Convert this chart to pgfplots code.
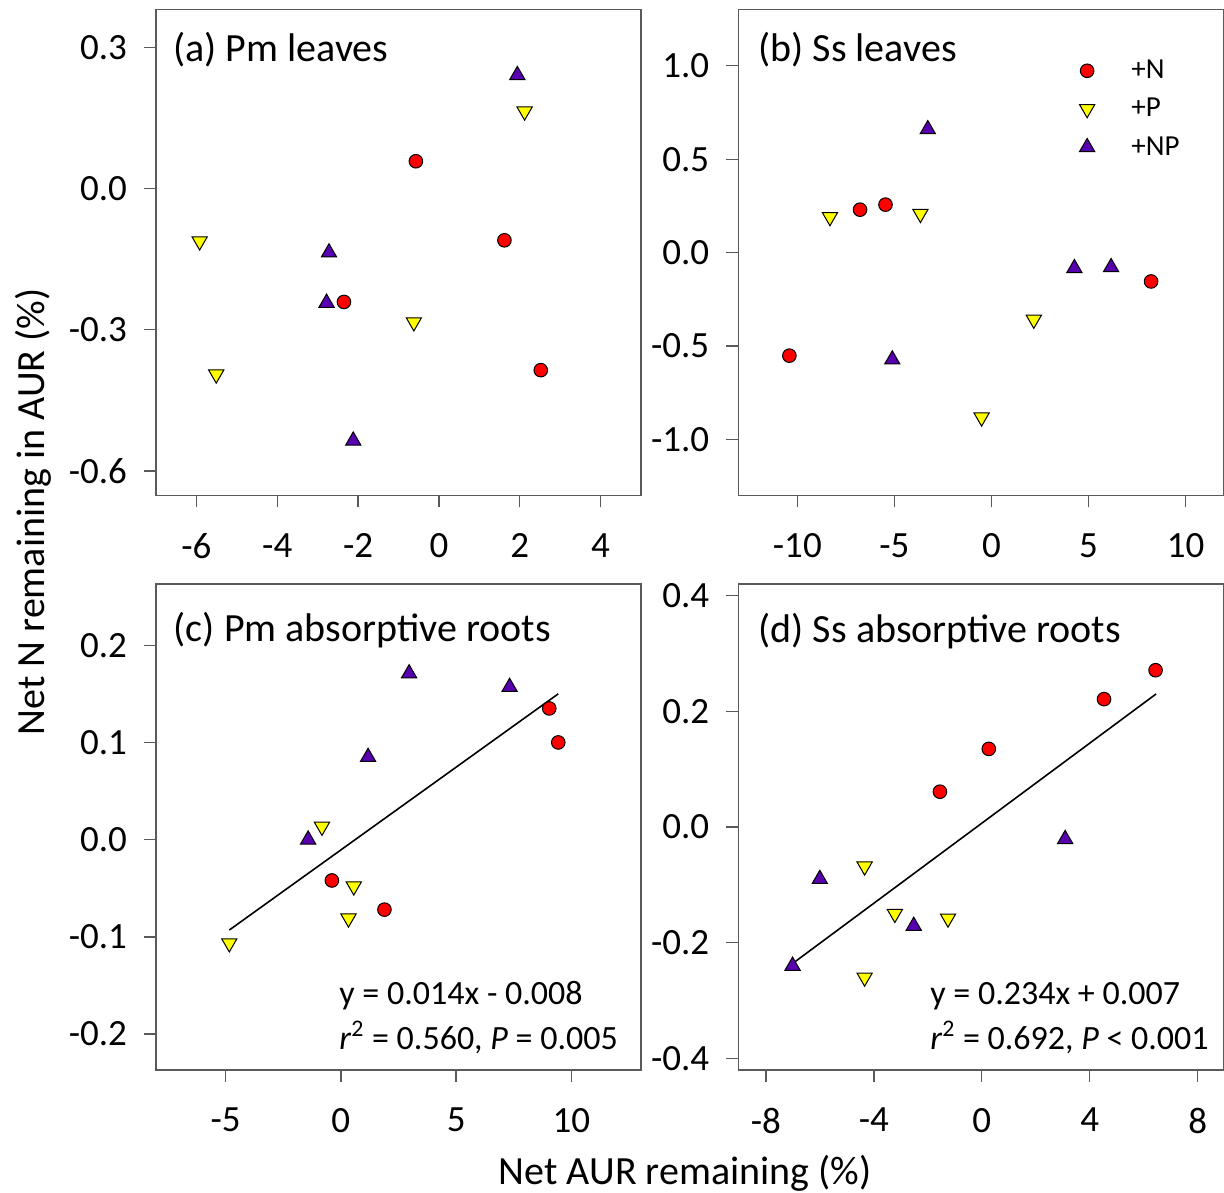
\documentclass[border=0pt]{standalone}
\usepackage{fontspec}
\setmainfont{Carlito}
\usepackage{pgfplots}
\pgfplotsset{compat=1.18}
\definecolor{npc}{RGB}{88,0,176}
\definecolor{pc}{RGB}{255,255,0}
\definecolor{nc}{RGB}{255,0,0}
\definecolor{framec}{RGB}{90,90,90}
\pgfplotsset{
  panel/.style={
    scale only axis, width=242.5pt, height=243pt,
    axis line style={framec, line width=0.7pt},
    tick style={framec, line width=0.7pt},
    tick align=outside, major tick length=6pt,
    tick pos=left,
    ticklabel style={font=\fontsize{18.5}{20}\selectfont},
    /pgf/number format/assume math mode=true,
    yticklabel style={xshift=-5pt, /pgf/number format/fixed, /pgf/number format/fixed zerofill, /pgf/number format/precision=1},
    xticklabel style={yshift=-9.5pt},
    legend image code/.code={\draw[##1] plot coordinates {(0.3cm,0cm)}; \path (0cm,0cm) (1.0cm,0cm);},
  },
  nmark/.style={only marks, mark=*, mark size=3.4pt, mark options={fill=nc, draw=black, line width=0.5pt}},
  pmark/.style={only marks, mark=triangle*, mark size=4.4pt, mark options={fill=pc, draw=black, line width=0.5pt, rotate=180}},
  npmark/.style={only marks, mark=triangle*, mark size=4.4pt, mark options={fill=npc, draw=black, line width=0.5pt}},
}
\tikzset{
  ttl/.style={anchor=west, inner sep=0pt, font=\fontsize{20}{24}\selectfont},
  ann/.style={anchor=west, inner sep=0pt, font=\fontsize{17}{20}\selectfont},
}
\begin{document}
\begin{tikzpicture}
\useasboundingbox (0,0) rectangle (612pt,-596pt);
% (a)
\begin{axis}[panel, at={(78pt,-4.65pt)}, anchor=north west,
  xmin=-7, xmax=5, ymin=-0.652, ymax=0.381,
  xtick={-6,-4,-2,0,2,4}, ytick={-0.6,-0.3,0,0.3}]
\addplot[nmark] coordinates {(-0.57,0.058) (1.62,-0.110) (-2.35,-0.241) (2.52,-0.386)};
\addplot[pmark] coordinates {(2.12,0.164) (-5.92,-0.112) (-5.51,-0.395) (-0.62,-0.284)};
\addplot[npmark] coordinates {(1.94,0.241) (-2.72,-0.136) (-2.78,-0.243) (-2.12,-0.536)};
\node[ttl] at (rel axis cs:0,1) [xshift=8.5pt, yshift=-20.3pt] {(a) Pm leaves};
\end{axis}
% (b)
\begin{axis}[panel, at={(369.15pt,-4.65pt)}, anchor=north west,
  xmin=-13.04, xmax=11.94, ymin=-1.298, ymax=1.302,
  xtick={-10,-5,0,5,10}, ytick={-1,-0.5,0,0.5,1},
  legend style={draw=none, fill=none, at={(0.670,0.913)}, anchor=north west,
    font=\fontsize{14.5}{17}\selectfont, row sep=4.3pt},
  legend cell align=left]
\addplot[nmark] coordinates {(-10.41,-0.551) (-6.77,0.230) (-5.46,0.257) (8.22,-0.154)};
\addlegendentry{+N}
\addplot[pmark] coordinates {(-8.32,0.191) (-3.66,0.208) (2.18,-0.358) (-0.51,-0.881)};
\addlegendentry{+P}
\addplot[npmark] coordinates {(-3.28,0.660) (-5.11,-0.572) (4.27,-0.083) (6.16,-0.078)};
\addlegendentry{+NP}
\node[ttl] at (rel axis cs:0,1) [xshift=9.9pt, yshift=-20.3pt] {(b) Ss leaves};
\end{axis}
% (c)
\begin{axis}[panel, at={(78pt,-292pt)}, anchor=north west,
  xmin=-8.02, xmax=13.02, ymin=-0.237, ymax=0.263,
  xtick={-5,0,5,10}, ytick={-0.2,-0.1,0,0.1,0.2}]
\addplot[nmark] coordinates {(-0.39,-0.042) (1.89,-0.072) (9.04,0.135) (9.43,0.100)};
\addplot[pmark] coordinates {(-4.84,-0.1065) (-0.82,0.0134) (0.56,-0.048) (0.33,-0.081)};
\addplot[npmark] coordinates {(-1.42,0.000) (1.18,0.085) (2.96,0.171) (7.32,0.157)};
\addplot[black, line width=0.8pt] coordinates {(-4.84,-0.093) (9.43,0.150)};
\node[ttl] at (rel axis cs:0,1) [xshift=8.7pt, yshift=-22.8pt] {(c) Pm absorptive roots};
\node[ann] at (rel axis cs:0,0) [xshift=91.5pt, yshift=37pt] {y = 0.014x - 0.008};
\node[ann] at (rel axis cs:0,0) [xshift=91.5pt, yshift=16.3pt] {\textit{r}\textsuperscript{2} = 0.560, \textit{P} = 0.005};
\end{axis}
% (d)
\begin{axis}[panel, at={(369.15pt,-292pt)}, anchor=north west,
  xmin=-9.02, xmax=8.95, ymin=-0.42, ymax=0.42,
  xtick={-8,-4,0,4,8}, ytick={-0.4,-0.2,0,0.2,0.4}]
\addplot[nmark] coordinates {(-1.55,0.061) (0.26,0.135) (4.53,0.221) (6.44,0.271)};
\addplot[pmark] coordinates {(-4.34,-0.068) (-4.34,-0.260) (-3.22,-0.150) (-1.25,-0.158)};
\addplot[npmark] coordinates {(-7.01,-0.240) (-6.00,-0.090) (-2.52,-0.171) (3.09,-0.021)};
\addplot[black, line width=0.8pt] coordinates {(-7.01,-0.236) (6.46,0.230)};
\node[ttl] at (rel axis cs:0,1) [xshift=10pt, yshift=-23.3pt] {(d) Ss absorptive roots};
\node[ann] at (rel axis cs:0,0) [xshift=95.8pt, yshift=37pt] {y = 0.234x + 0.007};
\node[ann] at (rel axis cs:0,0) [xshift=95.8pt, yshift=16.3pt] {\textit{r}\textsuperscript{2} = 0.692, \textit{P} < 0.001};
\end{axis}
\node[rotate=90, font=\fontsize{20}{24}\selectfont] at (16.5pt,-256pt) {Net N remaining in AUR (\%)};
\node[font=\fontsize{20}{24}\selectfont] at (342.5pt,-586.5pt) {Net AUR remaining (\%)};
\end{tikzpicture}
\end{document}
